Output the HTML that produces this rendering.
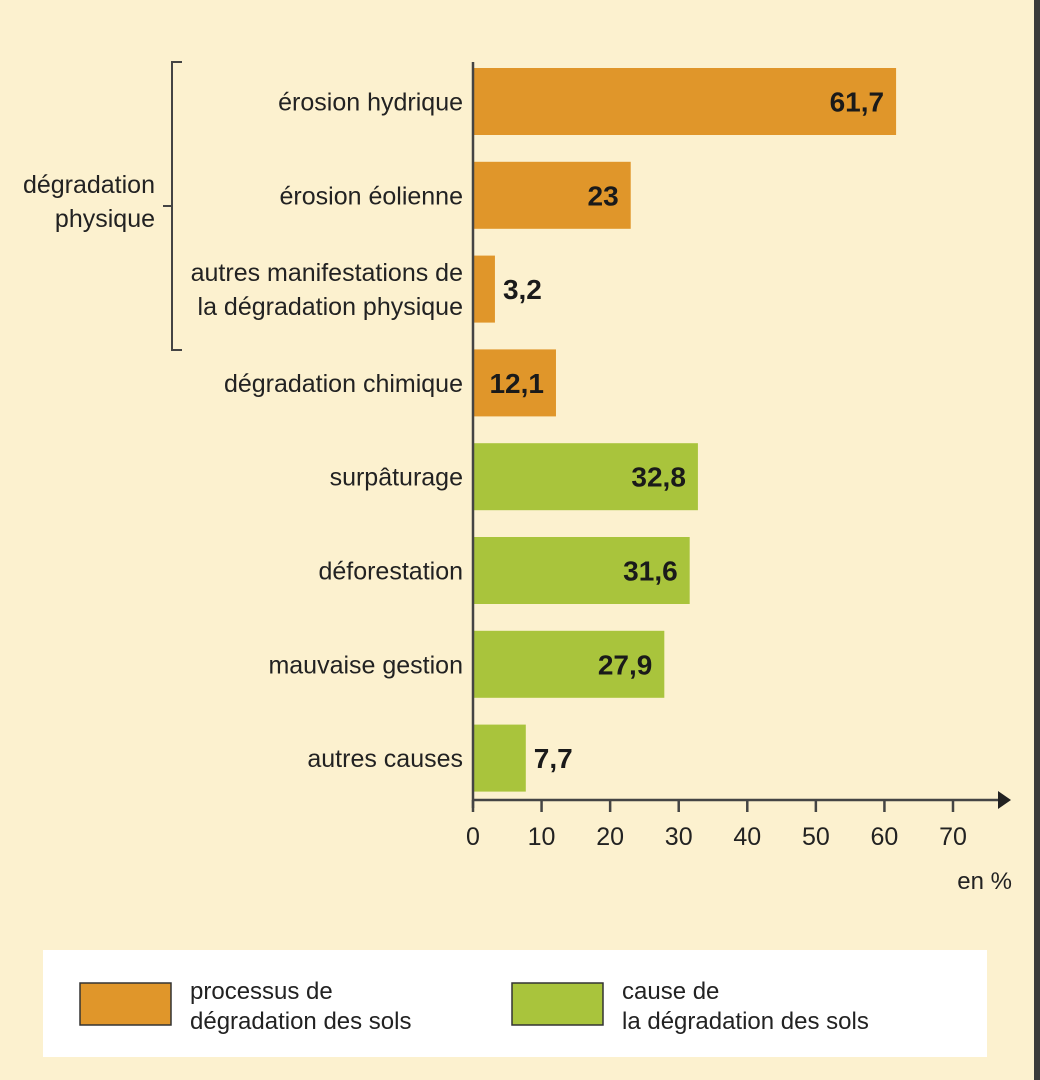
<!DOCTYPE html>
<html><head><meta charset="utf-8"><style>
html,body{margin:0;padding:0;background:#fcf1cf;}
svg{display:block;font-family:"Liberation Sans Narrow","Liberation Sans",sans-serif;}
</style></head><body>
<svg id="chart" width="1040" height="1080" viewBox="0 0 1040 1080" xmlns="http://www.w3.org/2000/svg">
<rect x="0" y="0" width="1040" height="1080" fill="#fcf1cf"/>
<rect x="1034" y="0" width="6" height="1080" fill="#3a3a3a"/>
<g id="bars"></g>
<g id="labels"></g>
<g id="axis"></g>
<path d="M182 62 H172 V350 H182 M172 206 H163" fill="none" stroke="#444" stroke-width="2"/>
<text x="155" y="193" font-size="25" text-anchor="end" fill="#222">dégradation</text>
<text x="155" y="227" font-size="25" text-anchor="end" fill="#222">physique</text>
<text x="1012" y="889" font-size="24" text-anchor="end" fill="#222">en %</text>
<g>
<rect x="43" y="950" width="944" height="107" fill="#ffffff"/>
<rect x="80" y="983" width="91" height="42" fill="#e0962a" stroke="#333" stroke-width="1.5"/>
<text x="190" y="999" font-size="24" fill="#222">processus de</text>
<text x="190" y="1029" font-size="24" fill="#222">dégradation des sols</text>
<rect x="512" y="983" width="91" height="42" fill="#a9c43c" stroke="#333" stroke-width="1.5"/>
<text x="622" y="999" font-size="24" fill="#222">cause de</text>
<text x="622" y="1029" font-size="24" fill="#222">la dégradation des sols</text>
</g>
</svg>
<script>
const categories = [["érosion hydrique"],["érosion éolienne"],["autres manifestations de","la dégradation physique"],["dégradation chimique"],["surpâturage"],["déforestation"],["mauvaise gestion"],["autres causes"]];
const values = [61.7, 23, 3.2, 12.1, 32.8, 31.6, 27.9, 7.7];
const valueLabels = ["61,7","23","3,2","12,1","32,8","31,6","27,9","7,7"];
const seriesType = ["process","process","process","process","cause","cause","cause","cause"];
const ticks = [0,10,20,30,40,50,60,70];

const NS="http://www.w3.org/2000/svg";
const x0=473, pxPerUnit=(953-473)/70;
const xScale=v=>x0+v*pxPerUnit;
const yTop=68, pitch=93.8, barH=67;
const yScale=i=>yTop+i*pitch;
const colors={process:"#e0962a",cause:"#a9c43c"};
function mk(tag,attrs,parent){const e=document.createElementNS(NS,tag);for(const k in attrs)e.setAttribute(k,attrs[k]);parent.appendChild(e);return e;}
const gb=document.getElementById('bars'), gl=document.getElementById('labels'), ga=document.getElementById('axis');
values.forEach((v,i)=>{
  const y=yScale(i), w=xScale(v)-x0;
  const r=mk('rect',{x:x0,y:y,width:w,height:barH,fill:colors[seriesType[i]]},gb);
  
  
  const small=w<70;
  const t=mk('text',{x:small?xScale(v)+8:xScale(v)-12,y:y+barH/2+10,'font-size':28,'font-weight':'bold','text-anchor':small?'start':'end',fill:'#1a1a1a'},gl);
  t.textContent=valueLabels[i];
  
  
  const lines=categories[i];
  lines.forEach((ln,j)=>{
    const cy=y+barH/2+9+(j-(lines.length-1)/2)*34;
    const c=mk('text',{x:463,y:cy,'font-size':25,'text-anchor':'end',fill:'#222'},gl);
    c.textContent=ln;
    
    
  });
});
const yl=mk('line',{x1:x0,y1:62,x2:x0,y2:808,stroke:'#444','stroke-width':2.5},ga);


const xl=mk('line',{x1:x0-1,y1:800,x2:1000,y2:800,stroke:'#444','stroke-width':2.5},ga);


const ar=mk('path',{d:'M998 791 L1011 800 L998 809 Z',fill:'#222'},ga);


ticks.forEach(t=>{
  const x=xScale(t);
  const tk=mk('line',{x1:x,y1:800,x2:x,y2:812,stroke:'#444','stroke-width':2.5},ga);
  
  
  const tl=mk('text',{x:x,y:845,'font-size':25,'text-anchor':'middle',fill:'#222'},ga);
  tl.textContent=String(t);
  
  
});
</script>
</body></html>
